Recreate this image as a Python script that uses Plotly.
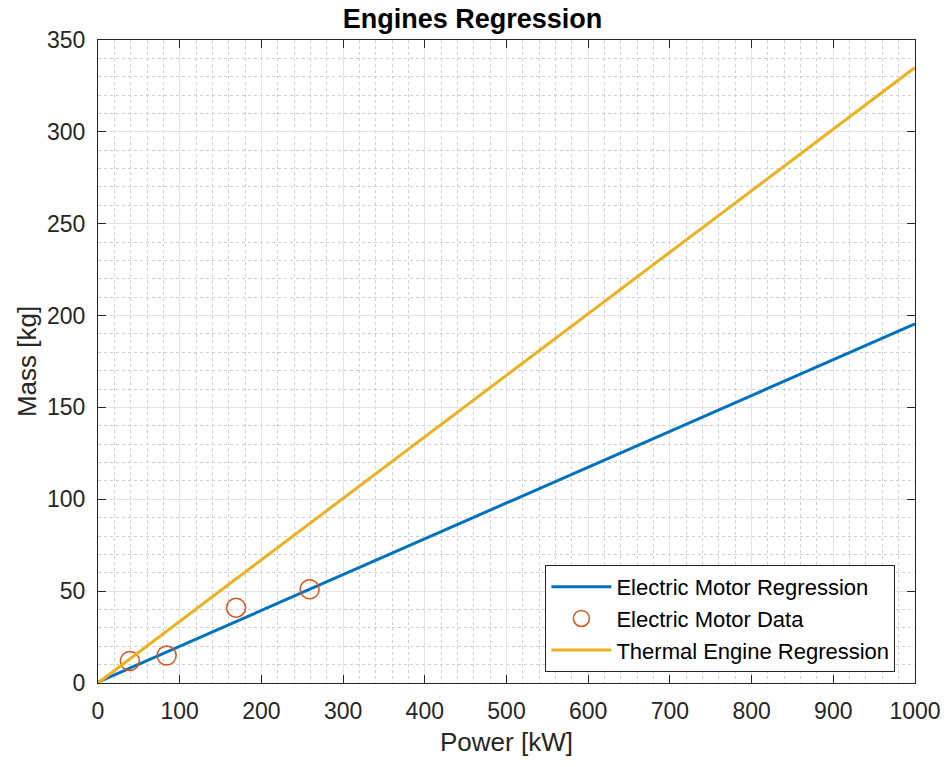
import plotly.graph_objects as go

# Data
power_line = [0, 1000]
electric_reg = [0.5, 195.5]
thermal_reg = [0.0, 335.0]
data_power = [39, 84, 169, 259]
data_mass = [12, 15, 41, 51]

FONT = "Liberation Sans, Arial"

fig = go.Figure()
fig.add_trace(go.Scatter(x=power_line, y=electric_reg, mode="lines",
                         name="Electric Motor Regression",
                         line=dict(color="#0072BD", width=3)))
fig.add_trace(go.Scatter(x=data_power, y=data_mass, mode="markers",
                         name="Electric Motor Data",
                         marker=dict(symbol="circle-open", size=19, color="#D95319",
                                     line=dict(width=1.5, color="#D95319"))))
fig.add_trace(go.Scatter(x=power_line, y=thermal_reg, mode="lines",
                         name="Thermal Engine Regression",
                         line=dict(color="#EDB120", width=3)))

axis_common = dict(
    showline=True, linecolor="#262626", linewidth=1, mirror="ticks",
    ticks="inside", ticklen=8, tickcolor="#262626",
    showgrid=True, gridcolor="#e3e3e3", gridwidth=1,
    zeroline=False, automargin=False,
    tickfont=dict(family=FONT, size=23, color="#262626"),
)

fig.update_xaxes(range=[0, 1000], dtick=100, tick0=0, ticklabelstandoff=7,
                 title=dict(text="Power [kW]", font=dict(family=FONT, size=26, color="#262626"), standoff=10),
                 minor=dict(dtick=20, showgrid=True, gridcolor="#d0d0d0", griddash="dot", gridwidth=1, ticks=""),
                 **axis_common)
fig.update_yaxes(range=[0, 350], dtick=50, tick0=0, ticklabelstandoff=7,
                 title=dict(text="Mass [kg]", font=dict(family=FONT, size=26, color="#262626"), standoff=2),
                 minor=dict(dtick=10, showgrid=True, gridcolor="#d0d0d0", griddash="dot", gridwidth=1, ticks=""),
                 **axis_common)

fig.update_layout(
    width=945, height=767,
    margin=dict(l=98, r=30, t=40, b=84),
    paper_bgcolor="white", plot_bgcolor="white",
    title=dict(text="<b>Engines Regression</b>", x=0.5, xanchor="center",
               y=1 - 19 / 767, yanchor="middle",
               font=dict(family=FONT, size=27, color="black")),
    legend=dict(x=0.976, y=0.017, xanchor="right", yanchor="bottom",
                bgcolor="white", bordercolor="#262626", borderwidth=1,
                font=dict(family=FONT, size=22, color="black"),
                itemwidth=60, tracegroupgap=0),
    showlegend=True,
)

fig.write_html("out.html")
